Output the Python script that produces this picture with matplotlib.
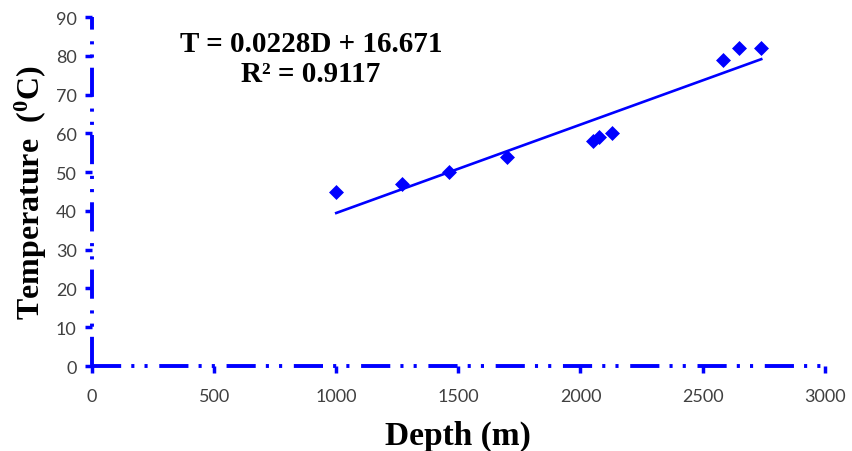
import matplotlib
matplotlib.use("Agg")
import matplotlib.pyplot as plt
import numpy as np

plt.rcParams['mathtext.fontset'] = 'custom'
plt.rcParams['mathtext.rm'] = 'Liberation Serif'
plt.rcParams['mathtext.bf'] = 'Liberation Serif:bold'

# measured data: depth (m) vs temperature (deg C)
depth = [1000, 1270, 1460, 1700, 2050, 2075, 2130, 2585, 2650, 2740]
temperature = [45, 47, 50, 54, 58, 59, 60, 79, 82, 82]

# linear trend as printed on the chart
slope = 0.0228
intercept = 16.671
r_squared = 0.9117

x_ticks = [0, 500, 1000, 1500, 2000, 2500, 3000]
y_ticks = [0, 10, 20, 30, 40, 50, 60, 70, 80, 90]

blue = '#0000ff'
serif = 'Liberation Serif'

fig = plt.figure(figsize=(8.52, 4.52), dpi=100)
ax = fig.add_axes([0.108, 0.188, 0.860, 0.772])

ax.scatter(depth, temperature, marker='D', s=58, color=blue, zorder=3, linewidths=0)

xfit = np.array([min(depth), max(depth)])
ax.plot(xfit, slope * xfit + intercept, color=blue, lw=1.9, zorder=2)

ax.set_xlim(0, 3000)
ax.set_ylim(0, 90)
ax.set_xticks(x_ticks)
ax.set_yticks(y_ticks)

lw = 2.8
for side in ['top', 'right']:
    ax.spines[side].set_visible(False)
for side in ['left', 'bottom']:
    sp = ax.spines[side]
    sp.set_color(blue)
    sp.set_linewidth(lw)
    sp.set_linestyle((0, (7.5, 2.6, 0.8, 2.6, 0.8, 3.0)))
    sp.set_capstyle('butt')

ax.tick_params(axis='both', direction='out', length=5, width=2.5, color=blue,
               labelsize=13, labelcolor='#404040', pad=6)
for lab in ax.get_xticklabels() + ax.get_yticklabels():
    lab.set_family('Lato')
ax.tick_params(axis='x', pad=11)

ax.set_xlabel('Depth (m)', fontsize=24, fontweight='bold', family=serif, labelpad=11)
ax.set_ylabel(r'Temperature  ($\mathbf{^0}$C)', fontsize=23, fontweight='bold',
              family=serif, labelpad=5)

ax.text(0.365, 0.868, 'T = %.4fD + %.3f\nR² = %.4f' % (slope, intercept, r_squared),
        transform=fig.transFigure, ha='center', va='center', fontsize=21,
        fontweight='bold', family=serif, linespacing=1.12)

fig.savefig('out.png', dpi=100)
